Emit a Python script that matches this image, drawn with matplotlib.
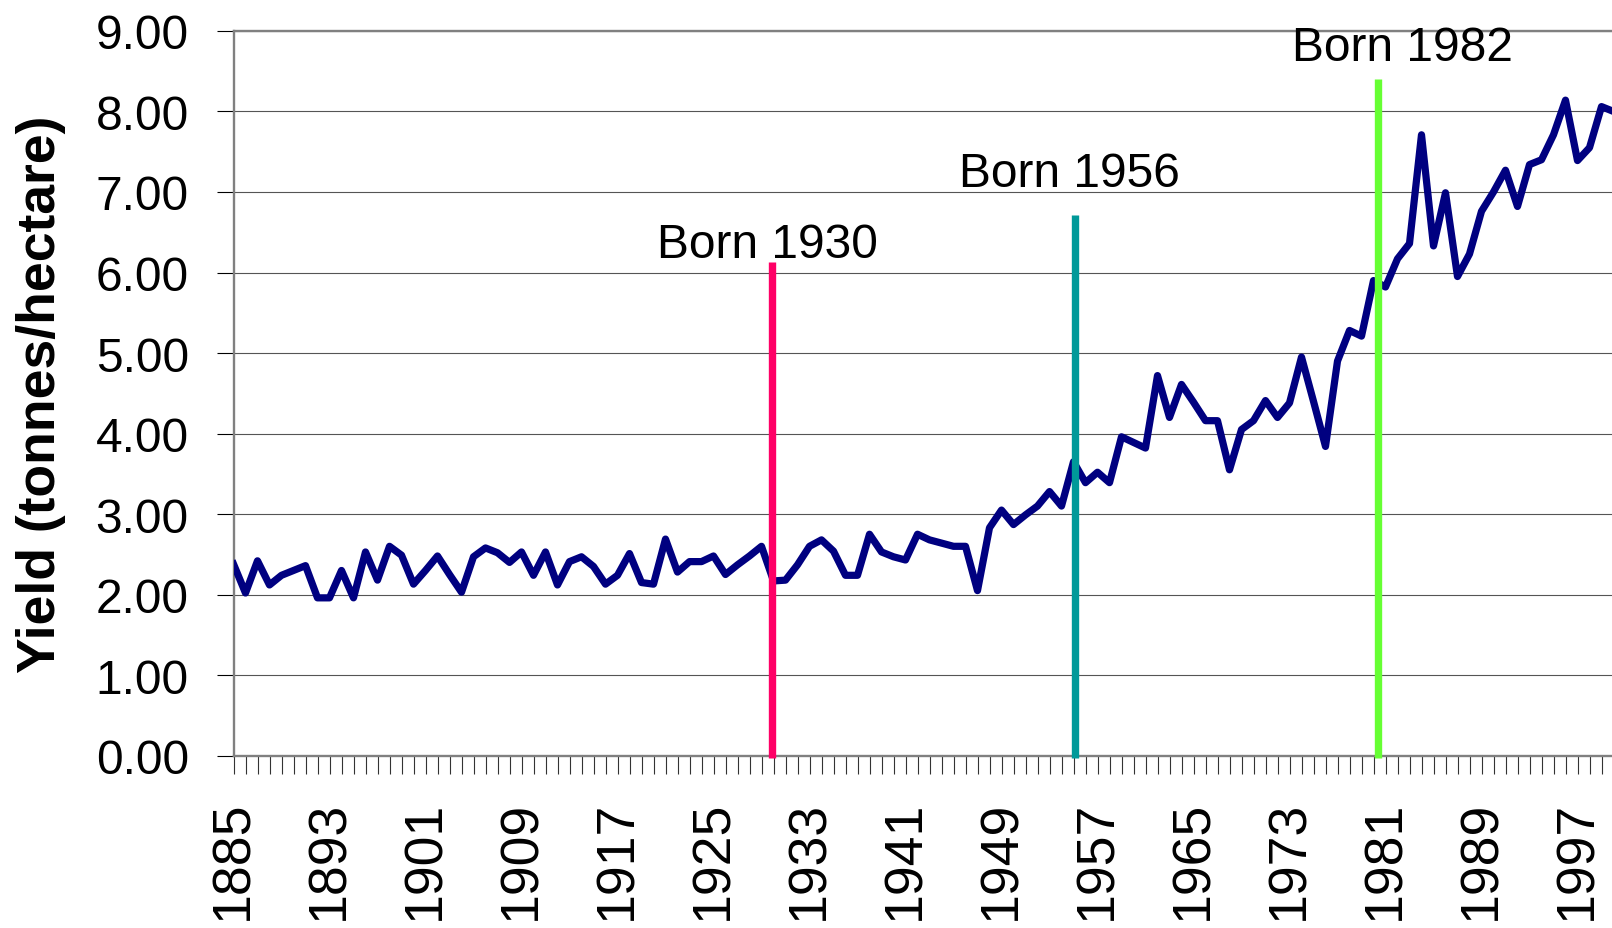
import matplotlib
matplotlib.use("Agg")
import matplotlib.pyplot as plt
from matplotlib.ticker import FixedLocator, FixedFormatter

# wheat yield, tonnes/hectare, one value per year
years = list(range(1885, 2001))
yield_t = [
    2.38, 2.02, 2.42, 2.12, 2.24, 2.30, 2.36, 1.96, 1.96, 2.30,   # 1885-1894
    1.96, 2.53, 2.18, 2.60, 2.49, 2.13, 2.30, 2.48, 2.25, 2.03,   # 1895-1904
    2.47, 2.58, 2.52, 2.40, 2.53, 2.24, 2.53, 2.12, 2.41, 2.47,   # 1905-1914
    2.35, 2.13, 2.24, 2.51, 2.15, 2.13, 2.69, 2.28, 2.41, 2.41,   # 1915-1924
    2.48, 2.25, 2.37, 2.48, 2.60, 2.17, 2.18, 2.37, 2.60, 2.68,   # 1925-1934
    2.54, 2.24, 2.24, 2.75, 2.53, 2.47, 2.43, 2.75, 2.68, 2.64,   # 1935-1944
    2.60, 2.60, 2.05, 2.83, 3.05, 2.87, 2.99, 3.10, 3.28, 3.10,   # 1945-1954
    3.65, 3.39, 3.52, 3.39, 3.96, 3.89, 3.82, 4.72, 4.20, 4.61,   # 1955-1964
    4.39, 4.16, 4.16, 3.55, 4.05, 4.16, 4.41, 4.20, 4.38, 4.95,   # 1965-1974
    4.40, 3.84, 4.90, 5.28, 5.21, 5.90, 5.82, 6.17, 6.36, 7.71,   # 1975-1984
    6.33, 6.99, 5.95, 6.23, 6.76, 7.00, 7.27, 6.82, 7.34, 7.40,   # 1985-1994
    7.71, 8.14, 7.39, 7.55, 8.06, 8.00,                           # 1995-2000
]

# generation markers
born_labels = ["Born 1930", "Born 1956", "Born 1982"]
born_x = [1929.9, 1955.1, 1980.4]
born_top = [6.13, 6.72, 8.40]
born_colors = ["#FF0066", "#009999", "#66FF33"]
label_x = [1929.5, 1954.7, 1982.4]
label_y = [6.19, 7.08, 8.64]

plt.rcParams['font.family'] = ['Liberation Sans', 'DejaVu Sans']

fig = plt.figure(figsize=(16.12, 9.29), dpi=100)
# plot area runs off the right and bottom edge like the original screenshot
ax = fig.add_axes([233.5 / 1612, 1 - 756.7 / 929, 1392 / 1612, 724.8 / 929])

ax.plot(years, yield_t, color='#000080', lw=5.2, solid_joinstyle='round', zorder=3)
ax.vlines(born_x, -0.03, born_top, colors=born_colors, lw=5.3, zorder=4, clip_on=False)
for txt, x, y in zip(born_labels, label_x, label_y):
    ax.text(x, y, txt, ha='center', va='baseline', fontsize=34.5, zorder=5)

ax.set_xlim(1885, 2001)
ax.set_ylim(0, 9)

# y axis
yticks = [0, 1, 2, 3, 4, 5, 6, 7, 8, 9]
ax.set_yticks(yticks)
ax.set_yticklabels([f"{v:.2f}" for v in yticks])
ax.tick_params(axis='y', direction='out', length=12.2, width=0.8, color='black',
               labelsize=34.5, pad=20)
ax.grid(axis='y', color='#555555', lw=0.8, zorder=1)

# x axis: tick every year, label every 8 years
ax.xaxis.set_major_locator(FixedLocator(years))
ax.xaxis.set_major_formatter(FixedFormatter([str(y) if (y - 1885) % 8 == 0 else '' for y in years]))
ax.tick_params(axis='x', direction='out', length=13, width=0.8, color='#333333',
               labelsize=38.5, labelrotation=90, pad=18.5)

for side in ['top', 'left', 'bottom']:
    ax.spines[side].set_color('#808080')
    ax.spines[side].set_linewidth(1.7)
ax.spines['right'].set_visible(False)

ax.set_ylabel("Yield (tonnes/hectare)", fontsize=38.5, fontweight='bold', va='center')
ax.yaxis.set_label_coords(-0.1383, 0.5)

fig.savefig("out.png", dpi=100)
